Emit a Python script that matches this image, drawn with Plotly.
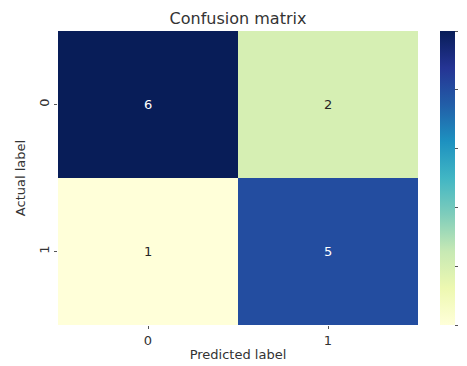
import plotly.graph_objects as go

labels = ["0", "1"]
matrix = [[6, 2], [1, 5]]
cb_ticks = [1, 2, 3, 4, 5, 6]

ylgnbu = ["#ffffd9", "#edf8b1", "#c7e9b4", "#7fcdbb", "#41b6c4",
          "#1d91c0", "#225ea8", "#253494", "#081d58"]
scale = [[i / (len(ylgnbu) - 1), c] for i, c in enumerate(ylgnbu)]

fig = go.Figure(go.Heatmap(
    z=matrix, x=labels, y=labels, colorscale=scale, zmin=1, zmax=6,
    xgap=0, ygap=0,
    colorbar=dict(thickness=15, len=1.0, x=1.061, xanchor="left", y=0.5, yanchor="middle",
                  xpad=0, ypad=0,
                  tickvals=cb_ticks, ticks="outside", ticklen=3, tickcolor="#555",
                  outlinewidth=0, tickfont=dict(size=13, color="#333"))
))

ann = []
for i, row in enumerate(matrix):
    for j, v in enumerate(row):
        ann.append(dict(x=labels[j], y=labels[i], text=str(v), showarrow=False,
                        font=dict(size=13, color="white" if v >= 4 else "#262626")))

fig.update_layout(
    width=467, height=366,
    margin=dict(l=50, r=57, t=23, b=49, autoexpand=False),
    paper_bgcolor="white", plot_bgcolor="white",
    font=dict(family="DejaVu Sans", color="#333"),
    title=dict(text="Confusion matrix", x=230 / 467, xanchor="center",
               y=1 - 10 / 366, yanchor="middle", font=dict(size=16, color="#333")),
    annotations=ann,
    xaxis=dict(title=dict(text="Predicted label", font=dict(size=13), standoff=3),
               ticks="outside", ticklen=3, tickcolor="#555", tickfont=dict(size=13),
               showgrid=False, zeroline=False),
    yaxis=dict(title=dict(text="Actual label", font=dict(size=13), standoff=8),
               autorange="reversed", ticks="outside", ticklen=3, tickcolor="#555",
               tickangle=-90, tickfont=dict(size=13), showgrid=False, zeroline=False),
)

fig.write_html("out.html")
